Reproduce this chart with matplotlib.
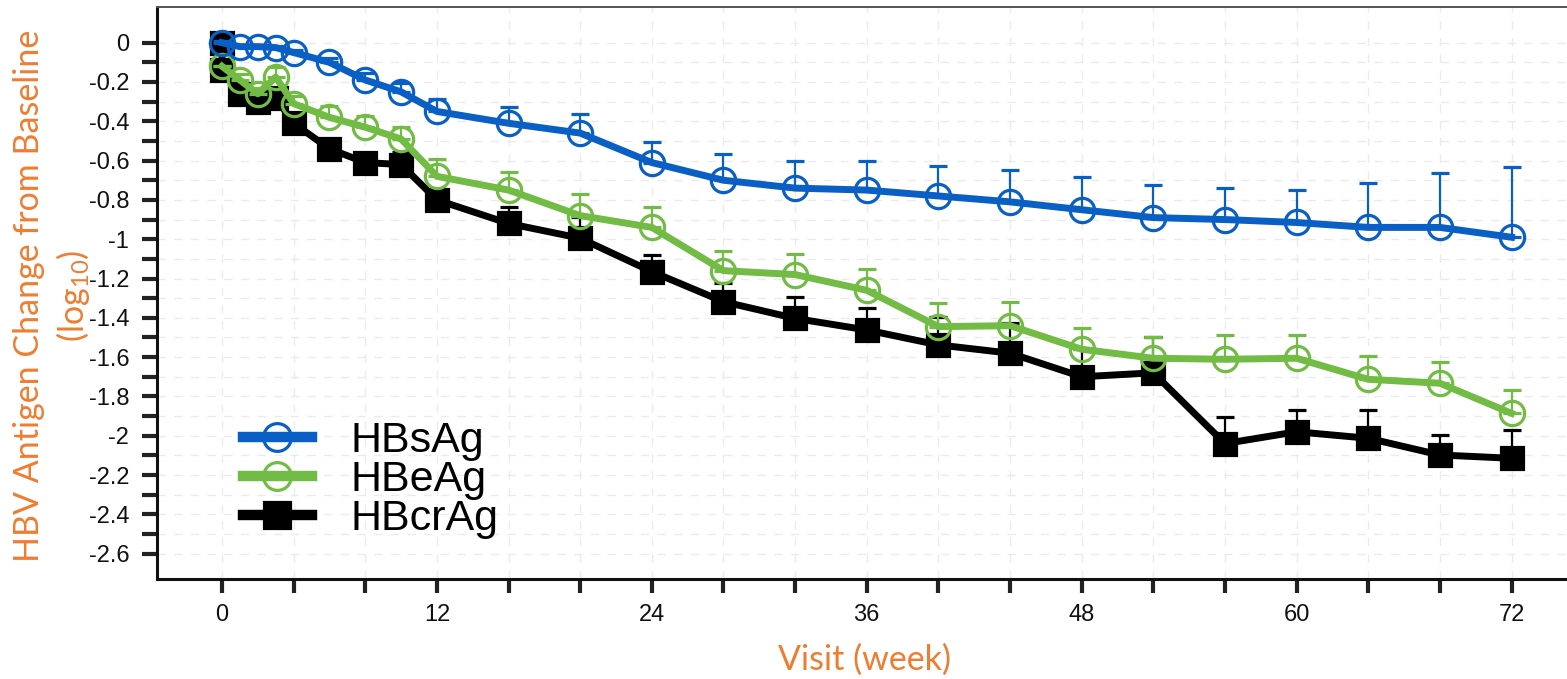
import matplotlib
matplotlib.use('Agg')
import matplotlib.pyplot as plt
from matplotlib.lines import Line2D
from matplotlib.ticker import FixedLocator, FuncFormatter

# ---------------- data ----------------
weeks_s = [0, 1, 2, 3, 4, 6, 8, 10, 12, 16, 20, 24, 28, 32, 36, 40, 44, 48, 52, 56, 60, 64, 68, 72]
hbsag = [0.0, -0.02, -0.02, -0.025, -0.05, -0.10, -0.19, -0.25, -0.35, -0.41, -0.46, -0.61,
         -0.70, -0.74, -0.75, -0.78, -0.81, -0.85, -0.89, -0.90, -0.915, -0.94, -0.94, -0.99]
hbsag_err = [0.01, 0.01, 0.01, 0.01, 0.015, 0.02, 0.035, 0.045, 0.065, 0.085, 0.095, 0.105,
             0.135, 0.14, 0.15, 0.15, 0.16, 0.165, 0.165, 0.163, 0.166, 0.225, 0.276, 0.356]

weeks_e = [0, 1, 2, 3, 4, 6, 8, 10, 12, 16, 20, 24, 28, 32, 36, 40, 44, 48, 52, 56, 60, 64, 68, 72]
hbeag = [-0.12, -0.19, -0.26, -0.175, -0.31, -0.38, -0.43, -0.49, -0.68, -0.75, -0.88, -0.94,
         -1.16, -1.18, -1.26, -1.445, -1.44, -1.56, -1.606, -1.611, -1.606, -1.713, -1.733, -1.886]
hbeag_err = [0.0, 0.03, 0.03, 0.05, 0.04, 0.06, 0.055, 0.06, 0.09, 0.094, 0.11, 0.106,
             0.10, 0.105, 0.11, 0.12, 0.12, 0.107, 0.11, 0.123, 0.118, 0.119, 0.11, 0.119]

weeks_c = [0, 0, 1, 2, 3, 4, 6, 8, 10, 12, 16, 20, 24, 28, 32, 36, 40, 44, 48, 52, 56, 60, 64, 68, 72]
hbcrag = [0.0, -0.14, -0.26, -0.30, -0.28, -0.41, -0.54, -0.61, -0.62, -0.80, -0.92, -0.995,
          -1.165, -1.318, -1.403, -1.462, -1.538, -1.58, -1.70, -1.68, -2.04, -1.98, -2.013, -2.098, -2.115]
hbcrag_err = [0.0, 0.02, 0.02, 0.02, 0.02, 0.03, 0.03, 0.04, 0.065, 0.055, 0.085, 0.11,
              0.085, 0.097, 0.107, 0.11, 0.144, 0.152, 0.14, 0.184, 0.136, 0.11, 0.144, 0.10, 0.144]

series_labels = ['HBsAg', 'HBeAg', 'HBcrAg']
x_major = [0, 12, 24, 36, 48, 60, 72]
y_major = [0, -0.2, -0.4, -0.6, -0.8, -1, -1.2, -1.4, -1.6, -1.8, -2, -2.2, -2.4, -2.6]

BLUE = '#0A5FC4'
GREEN = '#72BB44'
BLACK = '#000000'
ORANGE = '#ED7D31'

plt.rcParams['font.family'] = ['Liberation Sans', 'DejaVu Sans']
plt.rcParams['mathtext.default'] = 'regular'

W, H = 1567, 679
fig = plt.figure(figsize=(W / 100, H / 100), dpi=100)
ax = fig.add_axes([157 / W, 1 - 579 / H, 1 - 157 / W, (579 - 7) / H])

def draw(x, y, err, color, marker, z):
    ax.errorbar(x, y, yerr=[[0] * len(err), err], fmt='none', ecolor=color,
                elinewidth=1.6, capsize=6.5, capthick=2.3, zorder=z)
    ax.plot(x, y, color=color, lw=5, marker=marker, ms=17.5 if marker == 'o' else 16.5,
            mfc='none' if marker == 'o' else color, mec=color, mew=2.3, zorder=z + 0.5,
            solid_joinstyle='round')

draw(weeks_c, hbcrag, hbcrag_err, BLACK, 's', 3)
draw(weeks_e, hbeag, hbeag_err, GREEN, 'o', 4)
draw(weeks_s, hbsag, hbsag_err, BLUE, 'o', 5)

ax.set_xlim((157 - 222) / 17.91, (1567 - 222) / 17.91)
ax.set_ylim(-(579 - 42.7) / 196.5, (42.7 - 7) / 196.5)

ax.xaxis.set_major_locator(FixedLocator(x_major))
ax.xaxis.set_minor_locator(FixedLocator([w for w in range(4, 72, 4) if w % 12 != 0]))
ax.yaxis.set_major_locator(FixedLocator(y_major))
ax.yaxis.set_minor_locator(FixedLocator([-0.1 - 0.2 * i for i in range(13)]))
ax.yaxis.set_major_formatter(FuncFormatter(lambda v, p: f'{v:g}'))

ax.tick_params(axis='both', which='both', direction='out', color='#222222')
ax.tick_params(axis='y', which='both', length=11, width=3, labelsize=17, pad=9, labelcolor='#111111')
ax.tick_params(axis='x', which='both', length=10, width=3, labelsize=17, pad=8, labelcolor='#111111')

for s in ['left', 'bottom']:
    ax.spines[s].set_linewidth(2.2)
    ax.spines[s].set_color('#111111')
ax.spines['top'].set_linewidth(1.4)
ax.spines['top'].set_color('#555555')
ax.spines['right'].set_visible(False)

ax.grid(which='both', color='#ebebeb', ls=(0, (6, 6)), lw=1.0, zorder=0)
ax.set_axisbelow(True)

handles = [
    Line2D([], [], color=BLUE, lw=7.5, marker='o', ms=20, mfc='none', mec=BLUE, mew=2.3),
    Line2D([], [], color=GREEN, lw=7.5, marker='o', ms=20, mfc='none', mec=GREEN, mew=2.3),
    Line2D([], [], color=BLACK, lw=7.5, marker='s', ms=19, mfc=BLACK, mec=BLACK, mew=2.3),
]
leg = ax.legend(handles, series_labels, loc='center left',
                bbox_to_anchor=(243 / W, 1 - 480 / H), bbox_transform=fig.transFigure,
                frameon=False, fontsize=31, borderpad=0, borderaxespad=0,
                handlelength=1.6, handletextpad=0.9, labelspacing=-0.02)

fig.text(53 / W, 1 - 296 / H, 'HBV Antigen Change from Baseline\n(log$_{10}$)',
         rotation=90, ha='center', va='center', multialignment='center',
         color=ORANGE, fontsize=24.5, family=['Lato', 'DejaVu Sans'], linespacing=1.3)
fig.text(864 / W, 1 - 660 / H, 'Visit (week)', ha='center', va='center',
         color=ORANGE, fontsize=24.5, family=['Lato', 'DejaVu Sans'])

fig.savefig('out.png', dpi=100)
